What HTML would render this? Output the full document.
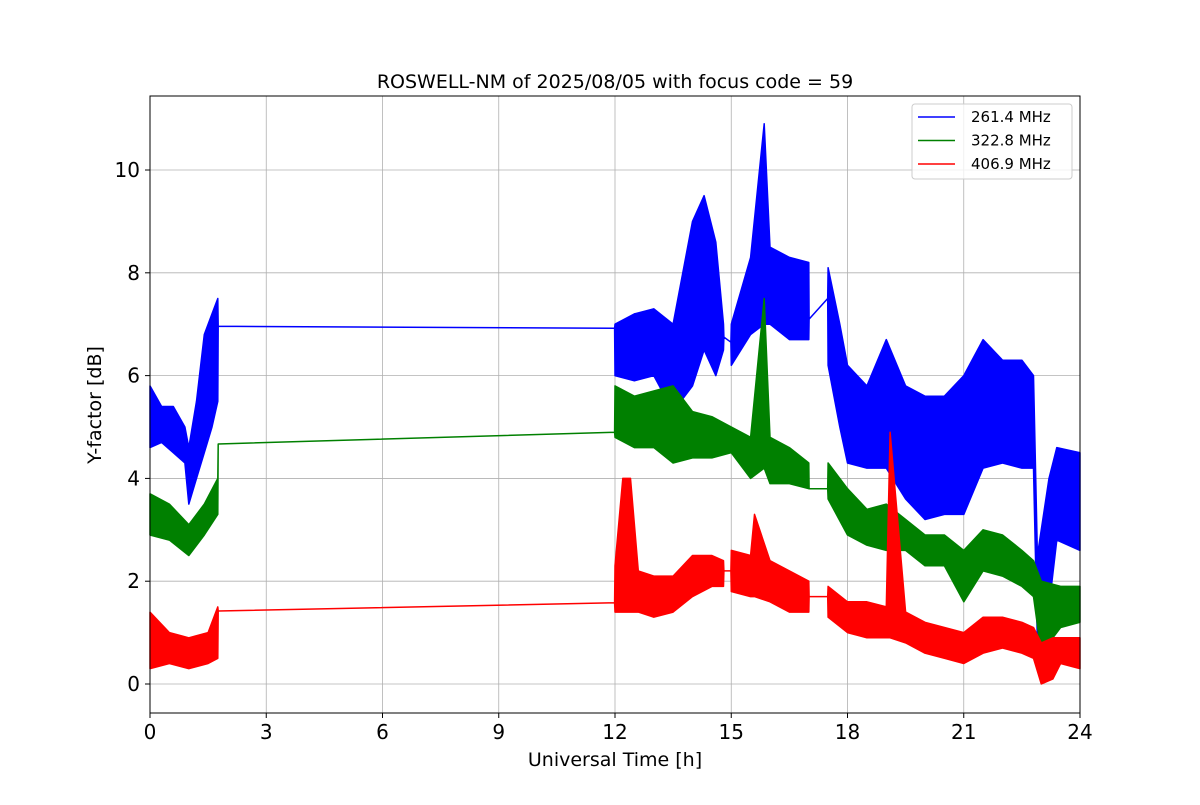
<!DOCTYPE html>
<html><head><meta charset="utf-8"><style>
body{margin:0;background:#fff;}
svg text{font-family:"DejaVu Sans","Liberation Sans",sans-serif;}
</style></head><body>
<svg id="chart" width="1200" height="800" viewBox="0 0 1200 800">
<rect width="1200" height="800" fill="#fff"/>
<g id="grid"></g>
<g id="series"></g>
<rect x="150" y="96" width="930" height="617" fill="none" stroke="#000" stroke-width="1"/>
<g id="ticks"></g>
<text x="615" y="88" text-anchor="middle" font-size="19">ROSWELL-NM of 2025/08/05 with focus code = 59</text>
<text x="615" y="766" text-anchor="middle" font-size="19">Universal Time [h]</text>
<text x="0" y="0" transform="translate(101,405) rotate(-90)" text-anchor="middle" font-size="19">Y-factor [dB]</text>
<g id="legend">
<rect x="912" y="104" width="160" height="75" rx="3" fill="#fff" fill-opacity="0.8" stroke="#ccc"/>
</g>
</svg>
<script>
const xTicks=[0,3,6,9,12,15,18,21,24];
const yTicks=[0,2,4,6,8,10];
const seriesNames=["261.4 MHz","322.8 MHz","406.9 MHz"];
const seriesColors=["#0000ff","#008000","#ff0000"];
const blueT=[0,0.3,0.6,0.9,1.0,1.2,1.4,1.6,1.75,1.76,11.99,12.0,12.5,13.0,13.5,14.0,14.3,14.6,14.8,14.81,14.99,15.0,15.5,15.85,16.0,16.5,17.0,17.01,17.49,17.5,17.8,18.0,18.5,19.0,19.5,20.0,20.5,21.0,21.5,22.0,22.5,22.8,22.9,23.2,23.4,24.0];
const blueLo=[4.6,4.7,4.5,4.3,3.5,4.0,4.5,5.0,5.5,6.96,6.92,6.0,5.9,6.0,5.3,5.8,6.5,6.0,6.5,6.75,6.65,6.2,6.8,7.0,7.0,6.7,6.7,7.1,7.5,6.2,5.0,4.3,4.2,4.2,3.6,3.2,3.3,3.3,4.2,4.3,4.2,4.2,0.8,1.5,2.8,2.6];
const blueHi=[5.8,5.4,5.4,5.0,4.6,5.5,6.8,7.2,7.5,6.96,6.92,7.0,7.2,7.3,7.0,9.0,9.5,8.6,7.0,6.75,6.65,7.0,8.3,10.9,8.5,8.3,8.2,7.1,7.5,8.1,7.0,6.2,5.8,6.7,5.8,5.6,5.6,6.0,6.7,6.3,6.3,6.0,2.5,4.0,4.6,4.5];
const greenT=[0,0.5,1.0,1.4,1.75,1.76,11.99,12.0,12.5,13.0,13.5,14.0,14.5,15.0,15.5,15.85,16.0,16.5,17.0,17.01,17.49,17.5,18.0,18.5,19.0,19.5,20.0,20.5,21.0,21.5,22.0,22.5,22.8,23.0,23.5,24.0];
const greenLo=[2.9,2.8,2.5,2.9,3.3,4.67,4.9,4.8,4.6,4.6,4.3,4.4,4.4,4.5,4.0,4.2,3.9,3.9,3.8,3.8,3.8,3.6,2.9,2.7,2.6,2.6,2.3,2.3,1.6,2.2,2.1,1.9,1.7,0.6,1.1,1.2];
const greenHi=[3.7,3.5,3.1,3.5,4.0,4.67,4.9,5.8,5.6,5.7,5.8,5.3,5.2,5.0,4.8,7.5,4.8,4.6,4.3,3.8,3.8,4.3,3.8,3.4,3.5,3.2,2.9,2.9,2.6,3.0,2.9,2.6,2.4,2.0,1.9,1.9];
const redT=[0,0.5,1.0,1.5,1.75,1.76,11.99,12.0,12.2,12.4,12.6,13.0,13.5,14.0,14.5,14.8,14.81,14.99,15.0,15.5,15.6,16.0,16.5,17.0,17.01,17.49,17.5,18.0,18.5,19.0,19.1,19.5,20.0,20.5,21.0,21.5,22.0,22.5,22.8,23.0,23.3,23.5,24.0];
const redLo=[0.3,0.4,0.3,0.4,0.5,1.42,1.58,1.4,1.4,1.4,1.4,1.3,1.4,1.7,1.9,1.9,2.2,2.2,1.8,1.7,1.7,1.6,1.4,1.4,1.7,1.7,1.3,1.0,0.9,0.9,0.9,0.8,0.6,0.5,0.4,0.6,0.7,0.6,0.5,0.0,0.1,0.4,0.3];
const redHi=[1.4,1.0,0.9,1.0,1.5,1.42,1.58,2.3,4.0,4.0,2.2,2.1,2.1,2.5,2.5,2.4,2.2,2.2,2.6,2.5,3.3,2.4,2.2,2.0,1.7,1.7,1.9,1.6,1.6,1.5,4.9,1.4,1.2,1.1,1.0,1.3,1.3,1.2,1.1,0.8,0.9,0.9,0.9];

const X0=150,X1=1080,Y0=713,Y1=96,YMIN=-0.564,YMAX=11.44;
const xs=t=>X0+(t/24)*(X1-X0);
const ys=v=>Y0-(v-YMIN)/(YMAX-YMIN)*(Y0-Y1);
const NS="http://www.w3.org/2000/svg";
function mk(tag,attrs,parent){const e=document.createElementNS(NS,tag);for(const k in attrs)e.setAttribute(k,attrs[k]);parent.appendChild(e);return e;}
const grid=document.getElementById('grid'),ticks=document.getElementById('ticks');
xTicks.forEach(t=>{
  const g=mk('line',{x1:xs(t),x2:xs(t),y1:Y1,y2:Y0,stroke:'#b0b0b0','stroke-width':0.8},grid);
  
  
  mk('line',{x1:xs(t),x2:xs(t),y1:Y0,y2:Y0+5,stroke:'#000'},ticks);
  const l=mk('text',{x:xs(t),y:Y0+26,'text-anchor':'middle','font-size':20},ticks);
  l.textContent=t;
  
  
});
yTicks.forEach(v=>{
  const g=mk('line',{x1:X0,x2:X1,y1:ys(v),y2:ys(v),stroke:'#b0b0b0','stroke-width':0.8},grid);
  
  
  mk('line',{x1:X0-5,x2:X0,y1:ys(v),y2:ys(v),stroke:'#000'},ticks);
  const l=mk('text',{x:X0-10,y:ys(v)+7,'text-anchor':'end','font-size':20},ticks);
  l.textContent=v;
  
  
});
const data=[[blueT,blueLo,blueHi],[greenT,greenLo,greenHi],[redT,redLo,redHi]];
const sg=document.getElementById('series');
data.forEach((d,i)=>{
  const [T,L,H]=d;let pts=[];
  for(let k=0;k<T.length;k++)pts.push(xs(T[k]).toFixed(1)+','+ys(H[k]).toFixed(1));
  for(let k=T.length-1;k>=0;k--)pts.push(xs(T[k]).toFixed(1)+','+ys(L[k]).toFixed(1));
  const p=mk('polygon',{points:pts.join(' '),fill:seriesColors[i],stroke:seriesColors[i],'stroke-width':1.5,'stroke-linejoin':'round'},sg);
  
  
});
const lg=document.getElementById('legend');
seriesNames.forEach((n,i)=>{
  const y=117+i*23.5;
  mk('line',{x1:918,x2:955,y1:y,y2:y,stroke:seriesColors[i],'stroke-width':1.5},lg);
  const t=mk('text',{x:971,y:y+5,'font-size':15},lg);
  t.textContent=n;
  
  
});
</script>
</body></html>
